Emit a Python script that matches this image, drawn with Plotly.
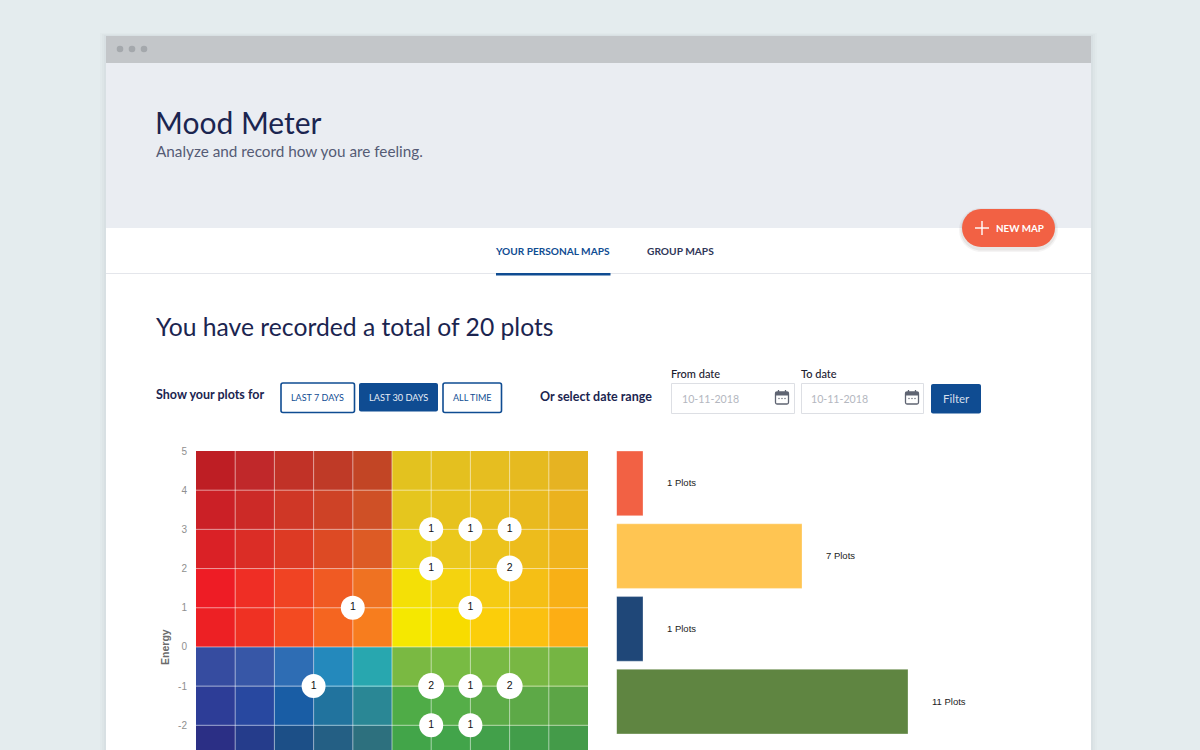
import plotly.graph_objects as go

# ---------- data ----------
energy_ticks = [5, 4, 3, 2, 1, 0, -1, -2]
energy_tick_labels = ["5", "4", "3", "2", "1", "0", "-1", "-2"]
pleasant_centers = [-4.5, -3.5, -2.5, -1.5, -0.5, 0.5, 1.5, 2.5, 3.5, 4.5]
energy_centers = [4.5, 3.5, 2.5, 1.5, 0.5, -0.5, -1.5, -2.5]
grid_x = [-4, -3, -2, -1, 0, 1, 2, 3, 4]
grid_y = [4, 3, 2, 1, 0, -1, -2]
cell_colors = [
    ["#BE1E24", "#C0282A", "#C13227", "#BF3A27", "#C24525", "#E3C21F", "#E4C01F", "#E6BE20", "#E6BA20", "#E6B322"],
    ["#CB2026", "#CC2A27", "#CF3726", "#CE4226", "#CF5026", "#E5C61E", "#E7C21D", "#E8BF1E", "#E9BA1E", "#EBB21E"],
    ["#DA2126", "#DB2D26", "#DD3A24", "#DD4A24", "#DD5B25", "#EBD21A", "#EBC81C", "#ECC31C", "#EDBC1C", "#F0B31C"],
    ["#EE1C25", "#EF2E25", "#F04323", "#F05A23", "#EF7222", "#F4E006", "#F4D30F", "#F5CB13", "#F5BF15", "#F8B016"],
    ["#ED2024", "#EF3123", "#F34A21", "#F56520", "#F77D1E", "#F5E800", "#F8DC00", "#FBCE0A", "#FBC010", "#FDAE14"],
    ["#364CA0", "#3757A7", "#2E6DB4", "#2489BC", "#28A7AF", "#7AB942", "#78BB43", "#78B943", "#78B743", "#75B543"],
    ["#2D3D97", "#2848A0", "#195DA5", "#21739E", "#2A8795", "#4FAC47", "#55AE48", "#5CAB47", "#5DA947", "#5CA546"],
    ["#2B2F85", "#253C8B", "#1C4F87", "#245F84", "#2D707E", "#42A549", "#42A44A", "#42A04A", "#429D4A", "#449B49"],
]
plot_x = [-1, 1, 2, 3, 1, 3, 2, -2, 1, 2, 3, 1, 2]
plot_y = [1, 3, 3, 3, 2, 2, 1, -1, -1, -1, -1, -2, -2]
plot_n = [1, 1, 1, 1, 1, 2, 1, 1, 2, 1, 2, 1, 1]
bar_names = ["Red", "Yellow", "Blue", "Green"]
bar_values = [1, 7, 1, 11]
bar_colors = ["#F26144", "#FFC552", "#1F4778", "#5F8541"]

W, H = 1200, 750
SANS = "Lato"
HELV = "Liberation Sans"
NAVY = "#1B2550"
BLUE = "#0F4C92"


def px(x):
    return x / W


def py(y):
    return 1 - y / H


shapes, annos = [], []


def rect(x0, y0, x1, y1, fill, line=None, lw=1):
    shapes.append(dict(type="rect", xref="paper", yref="paper", layer="below",
                       x0=px(x0), x1=px(x1), y0=py(y0), y1=py(y1), fillcolor=fill,
                       line=dict(color=line or "rgba(0,0,0,0)", width=lw if line else 0)))


def rrect(x0, y0, x1, y1, r, fill, line=None, lw=1):
    k = r * 0.45
    d = (f"M {px(x0 + r)} {py(y0)} L {px(x1 - r)} {py(y0)} "
         f"C {px(x1 - k)} {py(y0)} {px(x1)} {py(y0 + k)} {px(x1)} {py(y0 + r)} "
         f"L {px(x1)} {py(y1 - r)} C {px(x1)} {py(y1 - k)} {px(x1 - k)} {py(y1)} {px(x1 - r)} {py(y1)} "
         f"L {px(x0 + r)} {py(y1)} C {px(x0 + k)} {py(y1)} {px(x0)} {py(y1 - k)} {px(x0)} {py(y1 - r)} "
         f"L {px(x0)} {py(y0 + r)} C {px(x0)} {py(y0 + k)} {px(x0 + k)} {py(y0)} {px(x0 + r)} {py(y0)} Z")
    shapes.append(dict(type="path", xref="paper", yref="paper", layer="below", path=d,
                       fillcolor=fill, line=dict(color=line or "rgba(0,0,0,0)", width=lw if line else 0)))


def seg(x0, y0, x1, y1, color, lw=1):
    shapes.append(dict(type="line", xref="paper", yref="paper", layer="below",
                       x0=px(x0), x1=px(x1), y0=py(y0), y1=py(y1), line=dict(color=color, width=lw)))


def dot(cx, cy, r, fill):
    shapes.append(dict(type="circle", xref="paper", yref="paper", layer="below",
                       x0=px(cx - r), x1=px(cx + r), y0=py(cy + r), y1=py(cy - r),
                       fillcolor=fill, line=dict(width=0)))


def text(x, y, s, size, color, family=SANS, weight=400, anchor="left"):
    annos.append(dict(xref="paper", yref="paper", x=px(x), y=py(y), text=s, showarrow=False,
                      xanchor=anchor, yanchor="middle", borderpad=0, align=anchor,
                      font=dict(size=size, color=color, family=family, weight=weight)))


def calendar(x):
    rrect(x, 392, x + 13, 404, 1.5, "#FFFFFF", "#5F6472", 1.3)
    rect(x, 392, x + 13, 395.5, "#5F6472")
    seg(x + 3, 390, x + 3, 393, "#5F6472", 1.3)
    seg(x + 10, 390, x + 10, 393, "#5F6472", 1.3)
    for dx in (3.5, 6.5, 9.5):
        dot(x + dx, 398.5, 0.7, "#5F6472")


# ---------- page chrome ----------
for g, a in ((6, 0.015), (4, 0.02), (2, 0.025)):
    rect(106 - g, 36 - g / 2, 1091 + g, 760, f"rgba(40,60,70,{a})")
rect(106, 36, 1091, 760, "#FFFFFF")
rect(106, 36, 1091, 63, "#C3C6C9")
for cx in (120, 132, 144):
    dot(cx, 49, 3.3, "#A4A8AC")
rect(106, 63, 1091, 228, "#EAEDF2")
text(153.5, 121.5, "Mood Meter", 30, NAVY)
text(154.5, 151.5, "Analyze and record how you are feeling.", 15.3, "#555B75")

# tabs
seg(106, 273.5, 1091, 273.5, "#E4E6EB", 1)
rect(496, 273, 610.5, 275.5, BLUE)
text(494, 250.5, "YOUR PERSONAL MAPS", 10.1, BLUE, weight=700)
text(646, 250.5, "GROUP MAPS", 10.2, "#2F3658", weight=700)

# floating button
for g, a in ((3, 0.05), (1.5, 0.07)):
    rrect(962 - g, 209 - g + 2, 1055 + g, 247 + g + 2, 19 + g, f"rgba(60,40,30,{a})")
rrect(962, 209, 1055, 247, 19, "#F26144")
seg(975, 228, 989, 228, "#FFFFFF", 1.4)
seg(982, 221, 982, 235, "#FFFFFF", 1.4)
text(994.5, 227.5, "NEW MAP", 9.8, "#FFFFFF", weight=700)

# headline
text(154.5, 327, "You have recorded a total of 20 plots", 24.7, NAVY)

# filter row
text(154.5, 395, "Show your plots for", 12.5, NAVY, weight=700)
rrect(281, 383, 354.5, 412.5, 2, "#FFFFFF", BLUE, 1.6)
text(317.7, 398, "LAST 7 DAYS", 9.0, BLUE, anchor="center")
rrect(359, 383, 438, 411.5, 2, BLUE)
text(398.5, 397, "LAST 30 DAYS", 9.2, "#E8EEF6", anchor="center")
rrect(443, 383, 501.5, 412.5, 2, "#FFFFFF", BLUE, 1.6)
text(472.2, 398, "ALL TIME", 9.0, BLUE, anchor="center")

text(538.5, 396, "Or select date range", 12.5, NAVY, weight=700)
text(670, 374, "From date", 11, "#1C2030", weight=500)
text(800, 374, "To date", 11, "#1C2030", weight=500)
rect(671.5, 383.5, 794.5, 413.5, "#FFFFFF", "#DDDFE4", 1)
rect(801.5, 383.5, 923.5, 413.5, "#FFFFFF", "#DDDFE4", 1)
text(681, 398.5, "10-11-2018", 10.6, "#B4B7C0")
text(810, 398.5, "10-11-2018", 10.6, "#B4B7C0")
calendar(775.5)
calendar(905.5)
rrect(931, 384, 981, 413.5, 2, BLUE)
text(956, 398.5, "Filter", 11.5, "#D5DFEC", anchor="center")

# ---------- traces ----------
n_rows, n_cols = len(cell_colors), len(cell_colors[0])
flat = [c for row in cell_colors for c in row]
z = [[i * n_cols + j for j in range(n_cols)] for i in range(n_rows)]
scale = [[k / (len(flat) - 1), c] for k, c in enumerate(flat)]

fig = go.Figure()
fig.add_trace(go.Heatmap(x=pleasant_centers, y=energy_centers, z=z, zmin=0, zmax=len(flat) - 1,
                         colorscale=scale, showscale=False, hoverinfo="skip",
                         xaxis="x", yaxis="y"))

lx, ly = [], []
for v in grid_x:
    lx += [v, v, None]
    ly += [-5, 5, None]
for v in grid_y:
    lx += [-5, 5, None]
    ly += [v, v, None]
fig.add_trace(go.Scatter(x=lx, y=ly, mode="lines", hoverinfo="skip", showlegend=False,
                         line=dict(color="rgba(255,255,255,0.55)", width=1), xaxis="x", yaxis="y"))

fig.add_trace(go.Scatter(x=plot_x, y=plot_y, mode="markers+text", text=[str(n) for n in plot_n],
                         textposition="middle center", showlegend=False,
                         textfont=dict(size=10.5, color="#111111", family=HELV),
                         marker=dict(color="#FFFFFF", opacity=1, size=[22 + 2 * n for n in plot_n],
                                     line=dict(width=0)),
                         xaxis="x", yaxis="y"))

fig.add_trace(go.Bar(x=bar_values, y=bar_names, orientation="h", width=0.888, showlegend=False,
                     marker=dict(color=bar_colors, line=dict(color="rgba(255,255,255,0.3)", width=1)),
                     xaxis="x2", yaxis="y2"))

for name, v in zip(bar_names, bar_values):
    annos.append(dict(xref="x2", yref="y2", x=v, y=name, text=f"{v} Plots", showarrow=False,
                      xanchor="left", yanchor="middle", xshift=22.5, yshift=0.5, borderpad=0,
                      font=dict(size=9.5, color="#222222", family=HELV)))

annos.append(dict(xref="paper", yref="y", x=px(165), y=0, text="Energy", textangle=-90, showarrow=False,
                  xanchor="center", yanchor="middle", borderpad=0,
                  font=dict(size=10.5, color="#6B6B6B", family=HELV, weight=700)))

fig.update_layout(
    template="none",
    width=W, height=H, autosize=False, margin=dict(l=0, r=0, t=0, b=0, pad=0),
    paper_bgcolor="#E4ECEE", plot_bgcolor="rgba(0,0,0,0)", showlegend=False,
    shapes=shapes, annotations=annos,
    xaxis=dict(domain=[px(196), px(588)], range=[-5, 5], showgrid=False, zeroline=False,
               showticklabels=False, ticks="", showline=False, automargin=False, anchor="y"),
    yaxis=dict(domain=[0, py(451)], range=[-2.63, 5], showgrid=False, zeroline=False, showline=False,
               tickmode="array", tickvals=energy_ticks, ticktext=energy_tick_labels,
               ticks="outside", ticklen=6, tickcolor="rgba(0,0,0,0)", automargin=False, anchor="x",
               tickfont=dict(size=10, color="#8F8F8F", family=HELV)),
    xaxis2=dict(domain=[px(616.5), px(1000)], range=[0, 383.5 / 26.5], visible=False,
                automargin=False, anchor="y2"),
    yaxis2=dict(domain=[py(738), py(447)], range=[3.5, -0.5], type="category",
                categoryorder="array", categoryarray=bar_names, visible=False,
                automargin=False, anchor="x2"),
)

fig.write_html("out.html", config=dict(displayModeBar=False),
               post_script="document.body.style.margin='0';document.body.style.overflow='hidden';")
